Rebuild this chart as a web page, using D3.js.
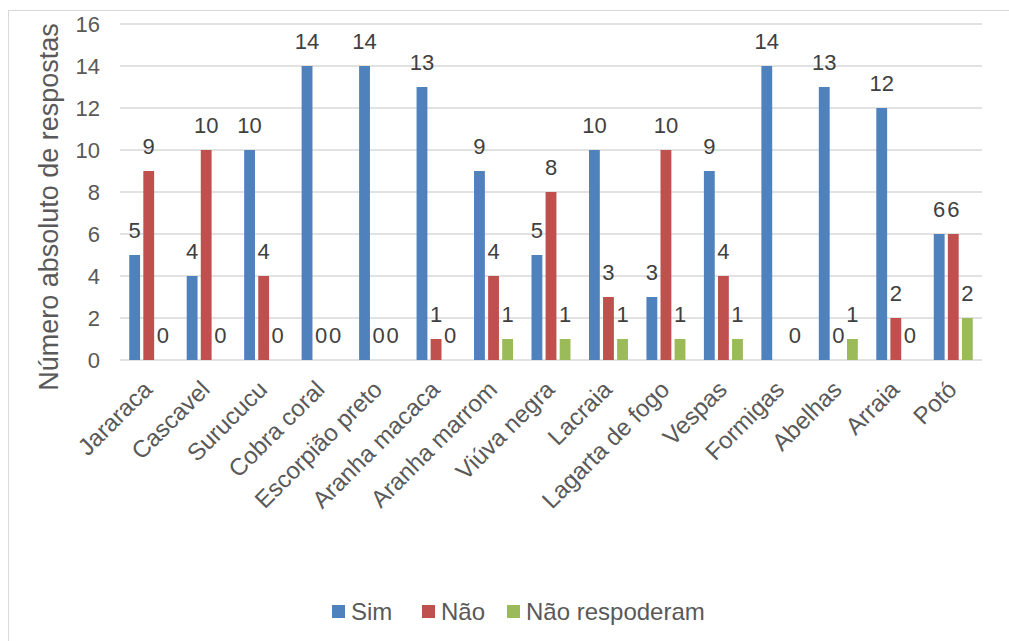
<!DOCTYPE html>
<html>
<head>
<meta charset="utf-8">
<script src="https://cdn.jsdelivr.net/npm/d3@7"></script>
<style>
  body { margin: 0; background: #fff; }
  text { font-family: "Liberation Sans", Arial, sans-serif; fill: #595959; }
</style>
</head>
<body>
<div id="chart"></div>
<script>
var categories = ["Jararaca", "Cascavel", "Surucucu", "Cobra coral", "Escorpião preto", "Aranha macaca",
    "Aranha marrom", "Viúva negra", "Lacraia", "Lagarta de fogo", "Vespas", "Formigas", "Abelhas", "Arraia", "Potó"]
var sim = [5, 4, 10, 14, 14, 13, 9, 5, 10, 3, 9, 14, 13, 12, 6]
var nao = [9, 10, 4, 0, 0, 1, 4, 8, 3, 10, 4, null, 0, 2, 6]
var naoResp = [0, 0, 0, 0, 0, 0, 1, 1, 1, 1, 1, 0, 1, 0, 2]
var seriesNames = ["Sim", "Não", "Não respoderam"]
var seriesColors = ["#4f81bd", "#c0504d", "#9bbb59"]
var yTicks = [0, 2, 4, 6, 8, 10, 12, 14, 16]

var W = 1009, H = 641
var margin = { left: 120, right: 27, top: 24, bottom: 281 }
var width = W - margin.left - margin.right,
    height = H - margin.top - margin.bottom
var fs = "22px", fsLabel = "24px"

var svg = d3.select("#chart").append("svg")
    .attr("width", W)
    .attr("height", H)

// outer chart border (only top/left visible in frame)
svg.append("rect")
    .attr("x", 8.5).attr("y", 10.5)
    .attr("width", W + 20).attr("height", H + 20)
    .attr("fill", "none")
    .attr("stroke", "#d9d9d9")

var g = svg.append("g")
    .attr("transform", "translate(" + margin.left + "," + margin.top + ")")

var x = d3.scaleBand().domain(categories).range([0, width])
var xs = d3.scaleBand().domain(seriesNames).range([-19.5, 19.5]).paddingInner(0.23)
var y = d3.scaleLinear().domain([0, 16]).range([height, 0])

// gridlines
g.append("g").selectAll("line")
    .data(yTicks)
    .enter().append("line")
        .attr("x1", 0).attr("x2", width)
        .attr("y1", function(d){ return y(d) })
        .attr("y2", function(d){ return y(d) })
        .attr("stroke", "#d9d9d9")
        .attr("stroke-width", 1.3)

var yAxis = d3.axisLeft(y).tickValues(yTicks).tickSize(0).tickPadding(20)
g.append("g").call(yAxis)
    .call(function(s){ s.select(".domain").remove() })
    .selectAll("text")
        .attr("font-size", fs)
        .style("fill", "#595959")

var xAxis = d3.axisBottom(x).tickSize(0).tickPadding(0)
g.append("g")
    .attr("transform", "translate(0," + height + ")")
    .call(xAxis)
    .call(function(s){ s.select(".domain").remove() })
    .selectAll("text")
        .attr("font-size", fsLabel)
        .style("fill", "#595959")
        .attr("text-anchor", "end")
        .attr("dy", "0")
        .attr("transform", "translate(5,31) rotate(-45)")

g.append("text")
    .attr("transform", "translate(-62,183) rotate(-90)")
    .attr("text-anchor", "middle")
    .attr("font-size", "27px")
    .text("Número absoluto de respostas")

var allSeries = [sim, nao, naoResp]
allSeries.forEach(function(vals, si){
    var pts = vals.map(function(v, i){ return { cat: categories[i], v: v } })
        .filter(function(d){ return d.v !== null })
    var sg = g.append("g")
    sg.selectAll("rect")
        .data(pts.filter(function(d){ return d.v > 0 }))
        .enter().append("rect")
            .attr("x", function(d){ return x(d.cat) + x.bandwidth() / 2 + xs(seriesNames[si]) })
            .attr("width", xs.bandwidth())
            .attr("y", function(d){ return y(d.v) })
            .attr("height", function(d){ return height - y(d.v) })
            .attr("fill", seriesColors[si])
    sg.selectAll("text")
        .data(pts)
        .enter().append("text")
            .attr("x", function(d){ return x(d.cat) + x.bandwidth() / 2 + xs(seriesNames[si]) + xs.bandwidth() / 2 })
            .attr("y", function(d){ return y(d.v) - 17 })
            .attr("text-anchor", "middle")
            .attr("font-size", fs)
            .style("fill", "#404040")
            .text(function(d){ return d.v })
})

// legend
var legendX = [332, 422, 507]
var legend = svg.append("g")
seriesNames.forEach(function(n, i){
    legend.append("rect")
        .attr("x", legendX[i]).attr("y", 605)
        .attr("width", 13).attr("height", 13)
        .attr("fill", seriesColors[i])
    legend.append("text")
        .attr("x", legendX[i] + 19).attr("y", 620)
        .attr("font-size", fsLabel)
        .text(n)
})
</script>
</body>
</html>
